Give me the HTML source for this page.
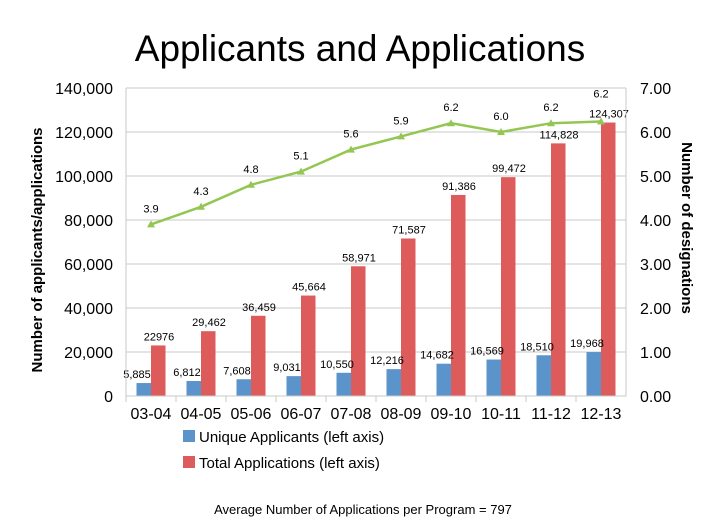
<!DOCTYPE html>
<html><head><meta charset="utf-8"><style>
html,body{margin:0;padding:0;background:#fff;}
svg{display:block;font-family:"Liberation Sans",sans-serif;}
</style></head><body>
<svg id="chart" width="719" height="530" viewBox="0 0 719 530" xmlns="http://www.w3.org/2000/svg">
<text x="360" y="61" text-anchor="middle" font-size="37" fill="#000">Applicants and Applications</text>
<g id="grid"></g><g id="bars"></g><g id="line"></g><g id="axes"></g>
<text transform="translate(42,250) rotate(-90)" text-anchor="middle" font-size="15" font-weight="bold">Number of applicants/applications</text>
<text transform="translate(682,228) rotate(90)" text-anchor="middle" font-size="15" font-weight="bold">Number of designations</text>
<rect x="183" y="430" width="12" height="12" fill="#5b93cb"/>
<text x="199" y="442" font-size="15">Unique Applicants (left axis)</text>
<rect x="183" y="456" width="12" height="12" fill="#dd5b5b"/>
<text x="199" y="468" font-size="15">Total Applications (left axis)</text>
<text x="363" y="514" text-anchor="middle" font-size="13">Average Number of Applications per Program = 797</text>
</svg>
<script>
const categories=["03-04","04-05","05-06","06-07","07-08","08-09","09-10","10-11","11-12","12-13"];
const uniqueApplicants=[5885,6812,7608,9031,10550,12216,14682,16569,18510,19968];
const totalApplications=[22976,29462,36459,45664,58971,71587,91386,99472,114828,124307];
const totalLabels=["22976","29,462","36,459","45,664","58,971","71,587","91,386","99,472","114,828","124,307"];
const designations=[3.9,4.3,4.8,5.1,5.6,5.9,6.2,6.0,6.2,6.24];
const leftTicks=[0,20000,40000,60000,80000,100000,120000,140000];
const rightTicks=[0,1,2,3,4,5,6,7];
const NS="http://www.w3.org/2000/svg";
const L=126,R=626,T=88,B=396;
const yL=v=>B-(v/140000)*(B-T);
const yR=v=>B-(v/7)*(B-T);
const bw=(R-L)/categories.length;
const xC=i=>L+bw*(i+0.5);
function mk(tag,attrs,parent){const e=document.createElementNS(NS,tag);for(const k in attrs)e.setAttribute(k,attrs[k]);document.getElementById(parent).appendChild(e);return e;}
const fmt=n=>n.toLocaleString("en-US");
leftTicks.forEach((v,i)=>{
  if(v>0){const g=mk("line",{x1:L,x2:R,y1:yL(v),y2:yL(v),stroke:"#c8c8c8","stroke-width":1},"grid");
  
  }
  const t=mk("text",{x:113,y:yL(v)+6,"text-anchor":"end","font-size":16},"axes");t.textContent=fmt(v);
  
  
});
rightTicks.forEach(v=>{
  const t=mk("text",{x:640,y:yR(v)+6,"font-size":16},"axes");t.textContent=v.toFixed(2);
  
  
});
const ax=mk("path",{d:`M${L},${T} V${B} H${R} V${T}`,fill:"none",stroke:"#c8c8c8"},"axes");


categories.forEach((c,i)=>{
  const tk=mk("line",{x1:L+bw*i,x2:L+bw*i,y1:B,y2:B+6,stroke:"#c8c8c8"},"axes");
  
  
  const t=mk("text",{x:xC(i),y:B+23,"text-anchor":"middle","font-size":16},"axes");t.textContent=c;
  
  
  const w=14.5;
  const b1=mk("rect",{x:xC(i)-w,y:yL(uniqueApplicants[i]),width:w,height:B-yL(uniqueApplicants[i]),fill:"#5b93cb"},"bars");
  
  
  const b2=mk("rect",{x:xC(i),y:yL(totalApplications[i]),width:w,height:B-yL(totalApplications[i]),fill:"#dd5b5b"},"bars");
  
  
  const l1=mk("text",{x:xC(i)-14,y:yL(uniqueApplicants[i])-5,"text-anchor":"middle","font-size":11},"bars");l1.textContent=fmt(uniqueApplicants[i]);
  
  
  const l2=mk("text",{x:xC(i)+8,y:yL(totalApplications[i])-5,"text-anchor":"middle","font-size":11},"bars");l2.textContent=totalLabels[i];
  
  
});
const pts=designations.map((v,i)=>[xC(i),yR(v)]);
const pl=mk("polyline",{points:pts.map(p=>p.join(",")).join(" "),fill:"none",stroke:"#94c653","stroke-width":2.5},"line");


pts.forEach((p,i)=>{
  const m=mk("path",{d:`M${p[0]-4},${p[1]+3} L${p[0]+4},${p[1]+3} L${p[0]},${p[1]-4}Z`,fill:"#94c653"},"line");
  
  
  const t=mk("text",{x:p[0],y:p[1]-(i===9?24:12),"text-anchor":"middle","font-size":11},"line");t.textContent=designations[i].toFixed(1);
  
  
});
</script>
</body></html>
